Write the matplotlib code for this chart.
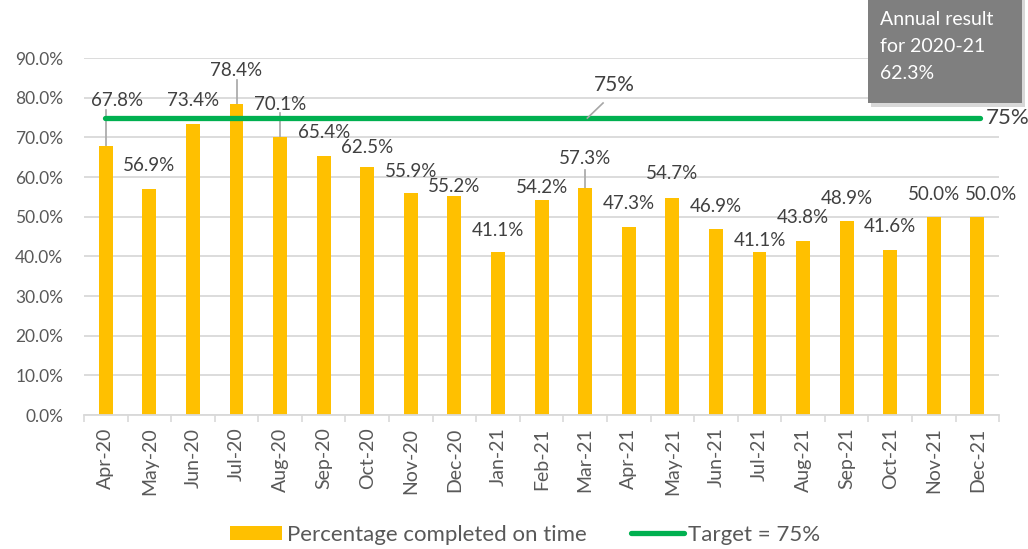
import matplotlib
matplotlib.use("Agg")
import matplotlib.pyplot as plt
from matplotlib.patches import Rectangle, Patch
from matplotlib.lines import Line2D

plt.rcParams['font.family'] = ['Lato', 'DejaVu Sans']

months = ["Apr-20", "May-20", "Jun-20", "Jul-20", "Aug-20", "Sep-20", "Oct-20",
          "Nov-20", "Dec-20", "Jan-21", "Feb-21", "Mar-21", "Apr-21", "May-21",
          "Jun-21", "Jul-21", "Aug-21", "Sep-21", "Oct-21", "Nov-21", "Dec-21"]
pct_on_time = [67.8, 56.9, 73.4, 78.4, 70.1, 65.4, 62.5, 55.9, 55.2, 41.1, 54.2,
               57.3, 47.3, 54.7, 46.9, 41.1, 43.8, 48.9, 41.6, 50.0, 50.0]
target = 75
annual_result = 62.3
yticks = [0, 10, 20, 30, 40, 50, 60, 70, 80, 90]

# label placement (layout only)
label_y = [79.4, 63.0, 79.4, 87.0, 78.4, 71.3, 67.6, 61.3, 57.7, 46.6, 57.5,
           64.8, 53.4, 60.8, 52.7, 44.1, 49.7, 54.7, 47.6, 55.5, 55.5]
label_dx = [0.25] + [0] * 19 + [0.32]
leaders = {0: 76.9, 3: 84.5, 4: 76.1, 11: 61.8}

GREY = "#595959"
fig = plt.figure(figsize=(10.28, 5.49), dpi=100)
ax = fig.add_axes([0.0817, 0.244, 0.8903, 0.650])

x = list(range(len(months)))
ax.bar(x, pct_on_time, width=0.32, color="#FFC000", zorder=2)
ax.plot([-0.02, 20.07], [target, target], color="#00B050", lw=3.8,
        solid_capstyle="round", zorder=3)

for i, v in enumerate(pct_on_time):
    ax.text(i + label_dx[i], label_y[i], f"{v:.1f}%", ha="center", va="center",
            fontsize=13.5, color="#404040", zorder=4)
    if i in leaders:
        ax.plot([i, i], [v, leaders[i]], color="#A6A6A6", lw=1.2, zorder=1)

# target annotation
ax.plot([11.05, 11.41], [74.9, 78.7], color="#A6A6A6", lw=1.2, zorder=4)
ax.text(11.66, 83.2, f"{target}%", ha="center", va="center", fontsize=15, color="#404040")
ax.text(20.18, target, f"{target}%", ha="left", va="center", fontsize=16,
        color="#404040", clip_on=False)

ax.set_xlim(-0.5, len(months) - 0.5)
ax.set_ylim(0, 90)
ax.set_yticks(yticks)
ax.set_yticklabels([f"{t:.1f}%" for t in yticks], fontsize=12.5, color=GREY)
ax.set_xticks(x)
ax.set_xticklabels(months, rotation=90, fontsize=14, color=GREY)
ax.tick_params(axis="x", length=0, pad=9)
ax.tick_params(axis="y", length=0, pad=15)
ax.set_xticks([i + 0.5 for i in range(-1, len(months))], minor=True)
ax.tick_params(axis="x", which="minor", length=5, color="#D9D9D9", width=1.2)
ax.grid(axis="y", color="#D9D9D9", lw=1.3, zorder=0)
ax.set_axisbelow(True)
for s in ["top", "right", "left"]:
    ax.spines[s].set_visible(False)
ax.spines["bottom"].set_color("#D9D9D9")
ax.spines["bottom"].set_linewidth(1.3)

# annual result box
shadow = Rectangle((0.847, 0.806), 0.150, 0.194, transform=fig.transFigure,
                   facecolor="#BFBFBF", edgecolor="none", alpha=0.6, zorder=5)
box = Rectangle((0.844, 0.812), 0.150, 0.188, transform=fig.transFigure,
                facecolor="#7F7F7F", edgecolor="none", zorder=6)
fig.patches.extend([shadow, box])
for k, line in enumerate(["Annual result", "for 2020-21", f"{annual_result}%"]):
    fig.text(0.856, 0.965 - k * 0.0495, line, color="white", fontsize=14,
             va="center", zorder=7)

handles = [Patch(facecolor="#FFC000", edgecolor="none"),
           Line2D([0], [0], color="#00B050", lw=3.8, solid_capstyle="round")]
fig.legend(handles, ["Percentage completed on time", f"Target = {target}%"],
           loc="center", bbox_to_anchor=(0.511, 0.026), ncol=2, frameon=False,
           fontsize=16, handlelength=2.35, handleheight=0.6, handletextpad=0.22,
           columnspacing=2.0, labelcolor=GREY, borderpad=0.2)

fig.savefig("out.png", dpi=100)
